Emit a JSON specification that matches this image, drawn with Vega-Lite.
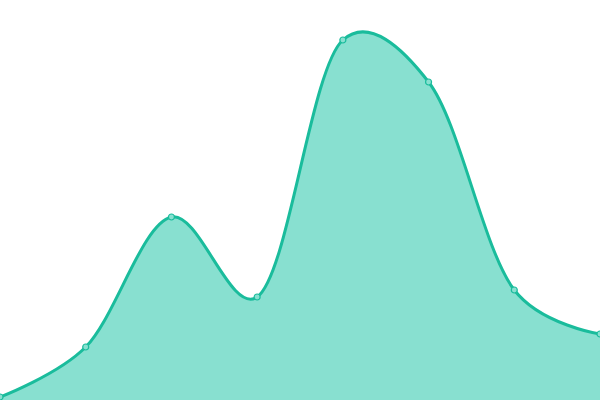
{
  "$schema": "https://vega.github.io/schema/vega-lite/v6.json",
  "width": 600,
  "height": 400,
  "autosize": {"type": "none"},
  "padding": 0,
  "data": {
    "values": [
      {"x": 0, "y": 3},
      {"x": 1, "y": 53},
      {"x": 2, "y": 183},
      {"x": 3, "y": 103},
      {"x": 4, "y": 360},
      {"x": 5, "y": 318},
      {"x": 6, "y": 110},
      {"x": 7, "y": 66}
    ]
  },
  "encoding": {
    "x": {"field": "x", "type": "quantitative", "axis": null, "scale": {"domain": [0, 7], "nice": false, "zero": false}},
    "y": {"field": "y", "type": "quantitative", "axis": null, "scale": {"domain": [0, 400], "nice": false}}
  },
  "layer": [
    {"mark": {"type": "area", "interpolate": "catmull-rom", "tension": 0.2, "color": "#88e0d0"}},
    {"mark": {"type": "line", "interpolate": "catmull-rom", "tension": 0.2, "color": "#1abc9c", "strokeWidth": 3}},
    {"mark": {"type": "point", "filled": true, "fill": "#88e0d0", "stroke": "#1abc9c", "strokeWidth": 1.2, "size": 36, "opacity": 1}}
  ],
  "config": {"view": {"stroke": null}}
}
